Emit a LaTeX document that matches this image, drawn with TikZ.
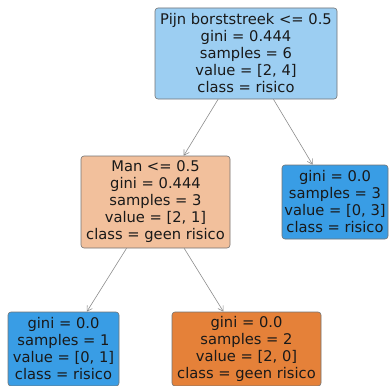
\documentclass[tikz,border=0pt]{standalone}
\usepackage{fontspec}
\setmainfont{DejaVu Sans}
\usetikzlibrary{arrows.meta}
\definecolor{blueL}{HTML}{9CCEF2}
\definecolor{blueD}{HTML}{399DE5}
\definecolor{orangeL}{HTML}{F2C09C}
\definecolor{orangeD}{HTML}{E58139}
\tikzset{
  treenode/.style={draw=black!55, line width=0.6pt, rounded corners=3pt, align=center,
    inner sep=0pt, font=\fontsize{14.7}{17}\selectfont, text=black!90},
  treeedge/.style={draw=black!45, line width=0.6pt, -{Straight Barb[length=5pt,width=6pt]}}
}
\begin{document}
\begin{tikzpicture}[x=1pt,y=-1pt]
\useasboundingbox (0,0) rectangle (390,385);
\node[treenode, fill=blueL, minimum width=182pt, minimum height=91pt] (root) at (246,53.5)
  {Pijn borststreek <= 0.5\\gini = 0.444\\samples = 6\\value = [2, 4]\\class = risico};
\node[treenode, fill=orangeL, minimum width=149pt, minimum height=92pt] (man) at (155.5,202)
  {Man <= 0.5\\gini = 0.444\\samples = 3\\value = [2, 1]\\class = geen risico};
\node[treenode, fill=blueD, minimum width=106pt, minimum height=74pt] (rleaf) at (335,202)
  {gini = 0.0\\samples = 3\\value = [0, 3]\\class = risico};
\node[treenode, fill=blueD, minimum width=111pt, minimum height=74pt] (lleaf) at (63.5,349)
  {gini = 0.0\\samples = 1\\value = [0, 1]\\class = risico};
\node[treenode, fill=orangeD, minimum width=149pt, minimum height=74pt] (mleaf) at (246.5,349)
  {gini = 0.0\\samples = 2\\value = [2, 0]\\class = geen risico};
\draw[treeedge] (root) -- (man);
\draw[treeedge] (root) -- (rleaf);
\draw[treeedge] (man) -- (lleaf);
\draw[treeedge] (man) -- (mleaf);
\end{tikzpicture}
\end{document}
